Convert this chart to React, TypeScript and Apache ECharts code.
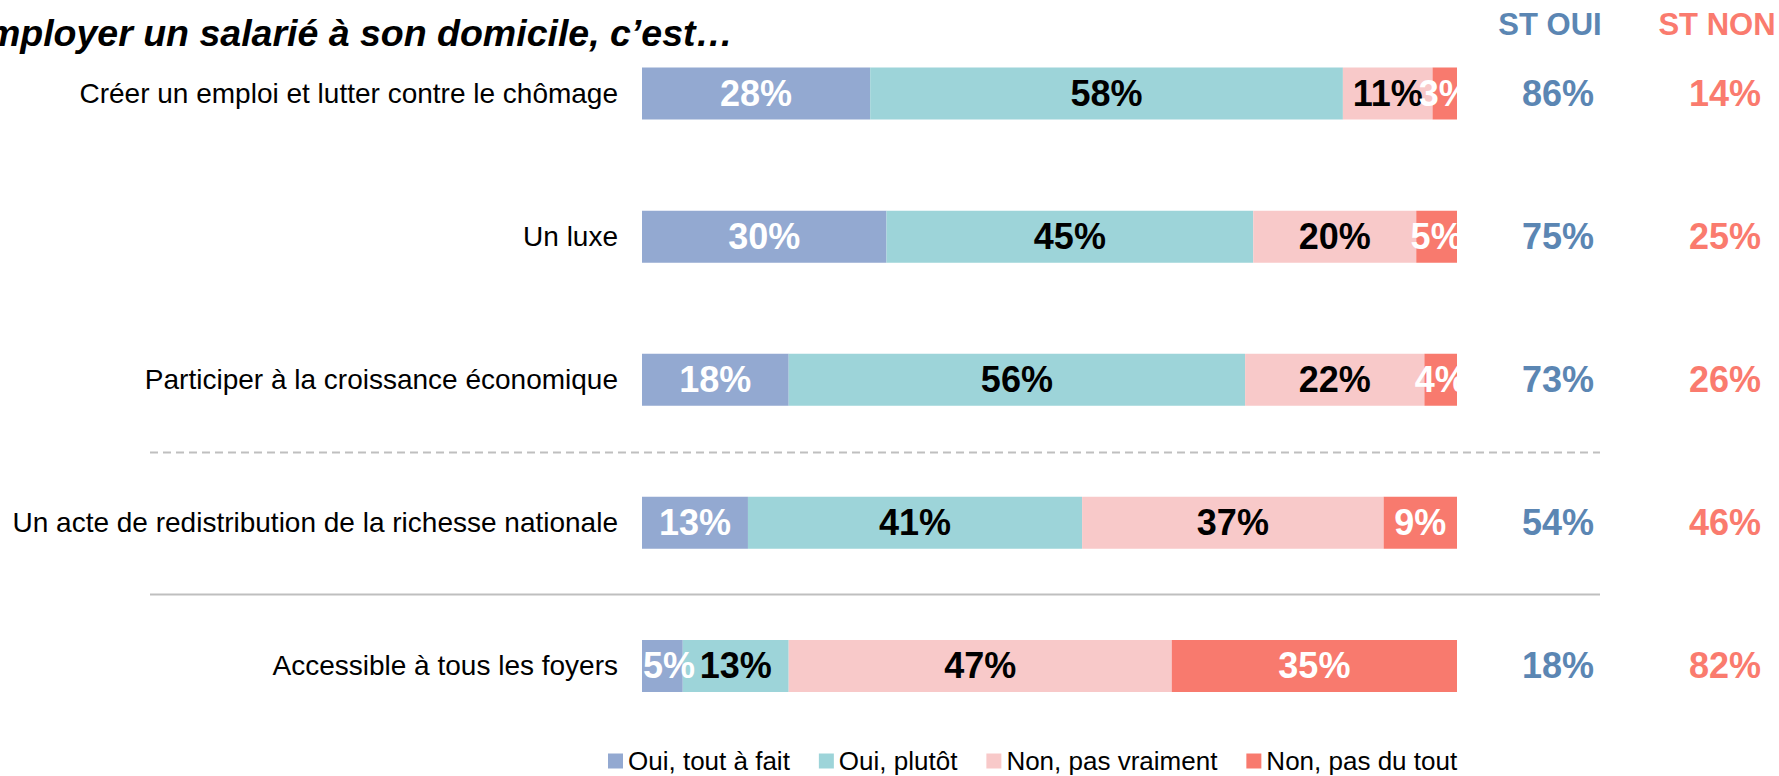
import React, { useEffect, useRef } from "react";
import * as echarts from "echarts";

const FONT = "'Liberation Sans', Arial, Helvetica, sans-serif";

const categories = [
  "Créer un emploi et lutter contre le chômage",
  "Un luxe",
  "Participer à la croissance économique",
  "Un acte de redistribution de la richesse nationale",
  "Accessible à tous les foyers",
];

const seriesNames = ["Oui, tout à fait", "Oui, plutôt", "Non, pas vraiment", "Non, pas du tout"];
const ouiToutAFait = [28, 30, 18, 13, 5];
const ouiPlutot = [58, 45, 56, 41, 13];
const nonPasVraiment = [11, 20, 22, 37, 47];
const nonPasDuTout = [3, 5, 4, 9, 35];

const stOui = [86, 75, 73, 54, 18];
const stNon = [14, 25, 26, 46, 82];

const title = "Employer un salarié à son domicile, c’est…";
const headerOui = "ST OUI";
const headerNon = "ST NON";

const barColors = ["#93A9D1", "#9DD4D9", "#F8C9C9", "#F87A6E"];
const labelColors = ["#FFFFFF", "#000000", "#000000", "#FFFFFF"];
const ouiColor = "#5B86B3";
const nonColor = "#FA7B6E";

export default function App() {
  const ref = useRef<HTMLDivElement>(null);

  useEffect(() => {
    if (!ref.current) return;
    const chart = echarts.init(ref.current, undefined, { renderer: "svg" });
    const values = [ouiToutAFait, ouiPlutot, nonPasVraiment, nonPasDuTout];

    const barSeries = values.map((arr, i) => ({
      name: seriesNames[i],
      type: "bar",
      stack: "total",
      xAxisIndex: 0,
      yAxisIndex: 0,
      barWidth: 52,
      data: arr.map((v, j) =>
        i === 0 && j === arr.length - 1
          ? { value: v, label: { position: "insideLeft", distance: 1 } }
          : v
      ),
      itemStyle: { color: barColors[i] },
      label: {
        show: true,
        position: "inside",
        formatter: "{c}%",
        color: labelColors[i],
        fontSize: 36,
        fontWeight: "bold",
        fontFamily: FONT,
      },
      emphasis: { disabled: true },
    }));

    const stSeries = [
      { name: headerOui, arr: stOui, col: 0.5, color: ouiColor },
      { name: headerNon, arr: stNon, col: 1.5, color: nonColor },
    ].map((s) => ({
      name: s.name,
      type: "scatter",
      xAxisIndex: 1,
      yAxisIndex: 1,
      symbolSize: 1,
      itemStyle: { color: "rgba(0,0,0,0)", opacity: 1 },
      data: s.arr.map((v, i) => [s.col, categories[i], v]),
      label: {
        show: true,
        position: "inside",
        formatter: (p: any) => p.value[2] + "%",
        color: s.color,
        opacity: 1,
        fontSize: 36,
        fontWeight: "bold",
        fontFamily: FONT,
      },
      emphasis: { disabled: true },
    }));

    chart.setOption({
      animation: false,
      textStyle: { fontFamily: FONT },
      grid: [
        { left: 642, width: 815, top: 22, height: 715.5 },
        { left: 1474.5, width: 304.5, top: 22, height: 715.5 },
      ],
      xAxis: [
        { type: "value", gridIndex: 0, min: 0, max: 100, show: false, splitLine: { show: false } },
        { type: "value", gridIndex: 1, min: 0, max: 1.8234, show: false, splitLine: { show: false } },
      ],
      yAxis: [
        {
          type: "category",
          gridIndex: 0,
          data: categories,
          inverse: true,
          axisLine: { show: false },
          axisTick: { show: false },
          axisLabel: { fontSize: 28, color: "#000", margin: 24, fontFamily: FONT },
        },
        {
          type: "category",
          gridIndex: 1,
          data: categories,
          inverse: true,
          show: false,
        },
      ],
      legend: {
        data: seriesNames,
        left: 608,
        top: 748,
        padding: 0,
        itemWidth: 15,
        itemHeight: 15,
        itemGap: 29,
        icon: "rect",
        textStyle: { fontSize: 26, color: "#000", fontFamily: FONT },
      },
      graphic: [
        {
          type: "text",
          x: 733,
          y: 32.5,
          style: {
            text: title,
            fontSize: 37.5,
            fontWeight: "bold",
            fontStyle: "italic",
            fontFamily: FONT,
            fill: "#000",
            textAlign: "right",
            textVerticalAlign: "middle",
          },
        },
        {
          type: "text",
          x: 1550,
          y: 24.5,
          style: {
            text: headerOui,
            fontSize: 31,
            fontWeight: "bold",
            fontFamily: FONT,
            fill: ouiColor,
            textAlign: "center",
            textVerticalAlign: "middle",
          },
        },
        {
          type: "text",
          x: 1717,
          y: 24.5,
          style: {
            text: headerNon,
            fontSize: 31,
            fontWeight: "bold",
            fontFamily: FONT,
            fill: nonColor,
            textAlign: "center",
            textVerticalAlign: "middle",
          },
        },
        {
          type: "line",
          shape: { x1: 150, y1: 452.5, x2: 1600, y2: 452.5 },
          style: { stroke: "#BFBFBF", lineWidth: 2, lineDash: [8, 5] },
        },
        {
          type: "line",
          shape: { x1: 150, y1: 594.5, x2: 1600, y2: 594.5 },
          style: { stroke: "#BFBFBF", lineWidth: 2 },
        },
      ],
      series: [...barSeries, ...stSeries],
    });

    return () => chart.dispose();
  }, []);

  return (
    <div
      ref={ref}
      style={{ position: "fixed", left: 0, top: 0, width: 1779, height: 776, background: "#fff" }}
    />
  );
}
